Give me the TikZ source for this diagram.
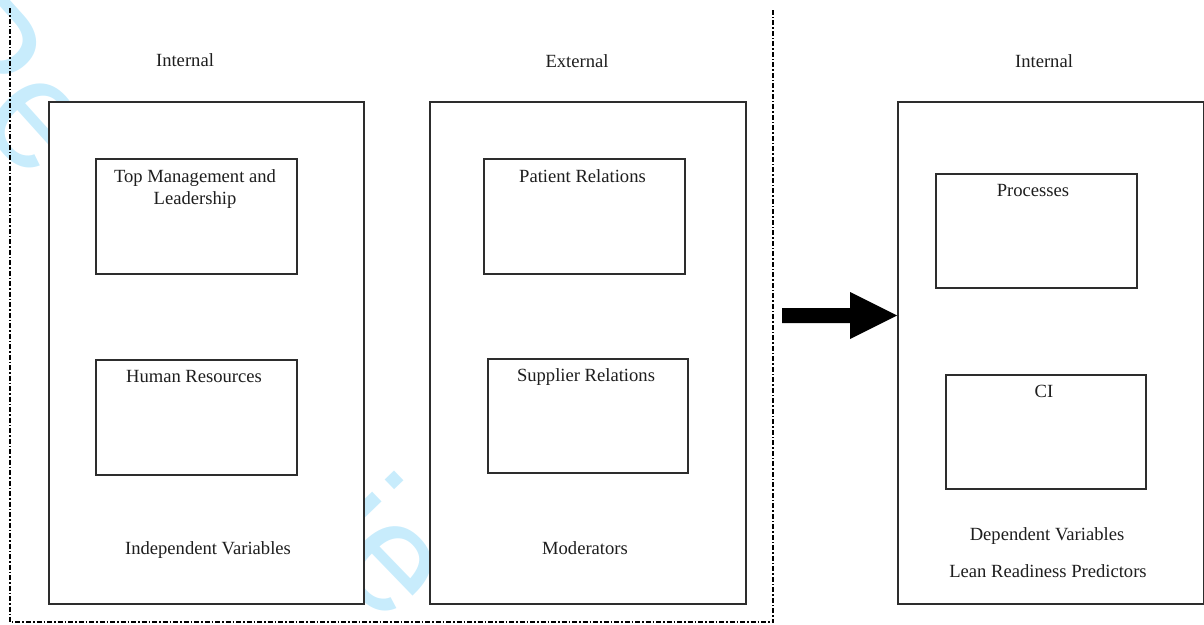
\documentclass[tikz,border=0pt]{standalone}
\usepackage{fontspec}
\setmainfont{Liberation Serif}
\newfontfamily\wmfont{Liberation Sans}
\usetikzlibrary{calc}
\definecolor{wm}{RGB}{200,236,252}
\definecolor{ln}{RGB}{45,45,45}
\definecolor{tx}{RGB}{30,30,30}
\tikzset{
  bigbox/.style={draw=ln, line width=1.9pt, fill=white, anchor=north west, inner sep=0pt},
  smallbox/.style={draw=ln, line width=1.7pt, fill=white, anchor=north west, inner sep=0pt,
    minimum width=201pt, minimum height=115pt},
  lbl/.style={anchor=base, inner sep=0pt, text=tx, font=\fontsize{18.6}{22}\selectfont, align=center},
  wmtext/.style={anchor=base west, inner sep=0pt, text=wm, font=\wmfont\fontsize{155}{160}\selectfont},
  frameline/.style={draw=black, line width=1.2pt, dash pattern=on 5pt off 2pt on 1.5pt off 2pt},
}
\begin{document}
\begin{tikzpicture}[x=1pt,y=-1pt]
\useasboundingbox (0,0) rectangle (1204,624);
% watermark fragments (visible parts only)
\begin{scope}
\clip (0,0) rectangle (1204,624);
\node[wmtext, rotate=-48] (wmA) at (-94,44) {Pe};
\node[wmtext, rotate=-46] (wmB) at (306,541) {ie};
\end{scope}
% dash-dot frame
\coordinate (ftl) at (10,8);
\coordinate (fbl) at (10,622);
\coordinate (fbr) at (773,622);
\coordinate (ftr) at (773,8);
\draw[frameline] (ftl) -- (fbl) -- (fbr) -- (ftr);
% outer boxes
\node[bigbox, minimum width=315pt, minimum height=502pt] (lout) at (48,101) {};
\node[bigbox, minimum width=316pt, minimum height=502pt] (mout) at (429,101) {};
\node[bigbox, minimum width=306pt, minimum height=502pt] (rout) at (897,101) {};
% inner boxes
\node[smallbox] (tml) at (95,158) {};
\node[smallbox] (hr) at (95,359) {};
\node[smallbox] (pr) at (483,158) {};
\node[smallbox, minimum width=200pt, minimum height=114pt] (sr) at (487,358) {};
\node[smallbox, minimum height=114pt] (proc) at (935,173) {};
\node[smallbox, minimum width=200pt, minimum height=114pt] (ci) at (945,374) {};
% labels
\node[lbl] (lintl) at (185,66) {Internal};
\node[lbl] (lext) at (577,67) {External};
\node[lbl] (lintr) at (1044,67) {Internal};
\node[lbl] (ttml) at (195,204) {Top Management and\\Leadership};
\node[lbl] (thr) at (194,382) {Human Resources};
\node[lbl] (tiv) at (208,554) {Independent Variables};
\node[lbl] (tpr) at (582.5,182) {Patient Relations};
\node[lbl] (tsr) at (586,381) {Supplier Relations};
\node[lbl] (tmod) at (585,554) {Moderators};
\node[lbl] (tproc) at (1033,196) {Processes};
\node[lbl] (tci) at (1044,397) {CI};
\node[lbl] (tdv) at (1047,540) {Dependent Variables};
\node[lbl] (tlrp) at (1048,577) {Lean Readiness Predictors};
% block arrow
\coordinate (as) at (782,315.5);
\coordinate (tip) at (rout.west |- as);
\fill[black] ($(as)+(0,-7.5)$) -- ($(tip)+(-47,-7.5)$) -- ($(tip)+(-47,-23.5)$) -- (tip)
  -- ($(tip)+(-47,23.5)$) -- ($(tip)+(-47,7.5)$) -- ($(as)+(0,7.5)$) -- cycle;
\end{tikzpicture}
\end{document}
